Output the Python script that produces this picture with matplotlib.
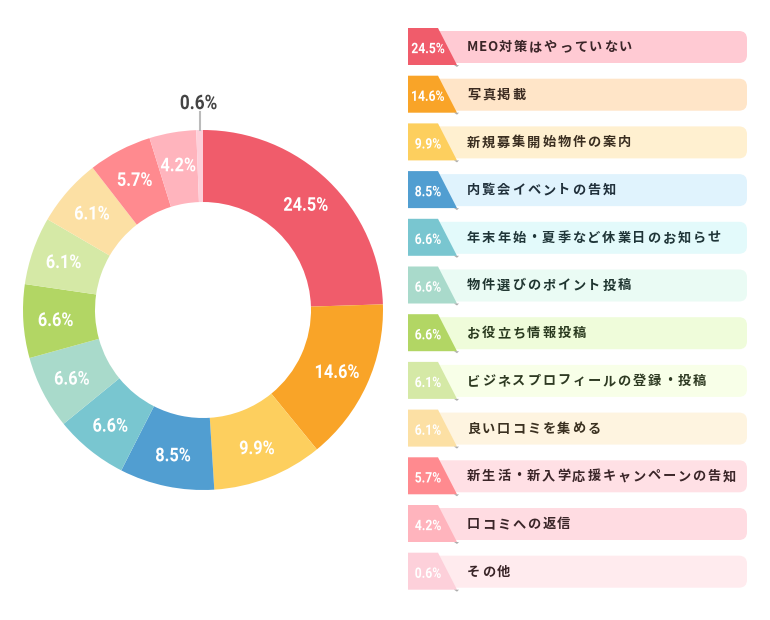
import math
import matplotlib
matplotlib.use('Agg')
import matplotlib.pyplot as plt
from matplotlib.patches import FancyBboxPatch, Polygon, PathPatch
from matplotlib.textpath import TextPath
from matplotlib.font_manager import FontProperties
from matplotlib.transforms import Affine2D

plt.rcParams['font.family'] = ['Noto Sans CJK JP', 'DejaVu Sans']

labels = ['MEO対策はやっていない', '写真掲載', '新規募集開始物件の案内', '内覧会イベントの告知',
          '年末年始・夏季など休業日のお知らせ', '物件選びのポイント投稿', 'お役立ち情報投稿',
          'ビジネスプロフィールの登録・投稿', '良い口コミを集める',
          '新生活・新入学応援キャンペーンの告知', '口コミへの返信', 'その他']
values = [24.5, 14.6, 9.9, 8.5, 6.6, 6.6, 6.6, 6.1, 6.1, 5.7, 4.2, 0.6]
colors = ['#F05C6B', '#F9A428', '#FDCF5E', '#519ED1', '#79C6D0', '#A9DACB',
          '#B2D664', '#D5E9A6', '#FCE0A4', '#FF8A8F', '#FFB4BD', '#FDD0DA']
bg_colors = ['#FFCAD3', '#FFE5C8', '#FFF0D0', '#E0F3FD', '#E3FAFB', '#EAFBF4',
             '#EFFCDA', '#F8FFE8', '#FEF4E0', '#FFE0E5', '#FFDCE2', '#FFEBEE']
text_colors = ['#3A2528', '#3A2A20', '#3A2E20', '#1F2F3A', '#1F3538', '#1F3530',
               '#2A3A1F', '#2E3A22', '#3A3020', '#3A2528', '#3A2528', '#3A2528']

fig = plt.figure(figsize=(7.7, 6.2), dpi=100)

# donut
ax = fig.add_axes([23 / 770, 130 / 620, 360 / 770, 360 / 620])
wedges, _ = ax.pie(values, colors=colors, startangle=90, counterclock=False,
                   radius=1, wedgeprops=dict(width=0.4, linewidth=0))
ax.set_xlim(-1, 1)
ax.set_ylim(-1, 1)
ax.set_aspect('equal')

# overlay in pixel coordinates
lax = fig.add_axes([0, 0, 1, 1])
lax.set_xlim(0, 770)
lax.set_ylim(620, 0)
lax.axis('off')

num_font = FontProperties(family='Roboto', weight='bold')


def condensed_text(x, y, s, size, color, sx=0.86):
    # narrow number labels, drawn as paths so they can be squeezed
    tp = TextPath((0, 0), s, size=size, prop=num_font)
    ext = tp.get_extents()
    tr = (Affine2D().translate(-(ext.x0 + ext.x1) / 2, -(ext.y0 + ext.y1) / 2)
          .scale(sx, -1).translate(x, y))
    lax.add_patch(PathPatch(tr.transform_path(tp), fc=color, ec='none', lw=0))


cx, cy, R = 203, 310, 180
for w, v in zip(wedges, values):
    ang = math.radians((w.theta1 + w.theta2) / 2)
    if v < 1:
        x = cx + R * math.cos(ang)
        lax.plot([x, x], [cy - R, cy - R - 18], color='#BBBBBB', lw=1.5)
        condensed_text(x - 1, cy - R - 28, f'{v}%', 20, '#444444')
        continue
    r = 0.82 * R
    condensed_text(cx + r * math.cos(ang), cy - r * math.sin(ang), f'{v}%', 19, 'white')

renderer = fig.canvas.get_renderer()


def spaced_text(x, y, s, color, gap=1.8):
    for ch in s:
        t = lax.text(x, y, ch, ha='left', va='center', fontsize=9.5, fontweight='bold',
                     color=color)
        x += t.get_window_extent(renderer).width + (0.6 if ord(ch) < 128 else gap)


for i, (lab, v) in enumerate(zip(labels, values)):
    yc = 47 + i * 47.7
    bar = FancyBboxPatch((412, yc - 16), 335, 32, boxstyle='round,pad=0,rounding_size=8',
                         fc=bg_colors[i], ec='none')
    lax.add_patch(bar)
    tab = Polygon([(408, yc - 19), (438, yc - 19), (457, yc + 18), (408, yc + 18)],
                  closed=True, fc=colors[i], ec='none')
    lax.add_patch(tab)
    lax.add_patch(Polygon([(454, yc + 18), (459, yc + 18), (457, yc + 20)], closed=True,
                          fc='#777777', ec='none', alpha=0.6))
    condensed_text(428, yc + 1, f'{v}%', 14.5, 'white', sx=0.84)
    spaced_text(467, yc, lab, text_colors[i])

fig.savefig('out.png', dpi=100)
